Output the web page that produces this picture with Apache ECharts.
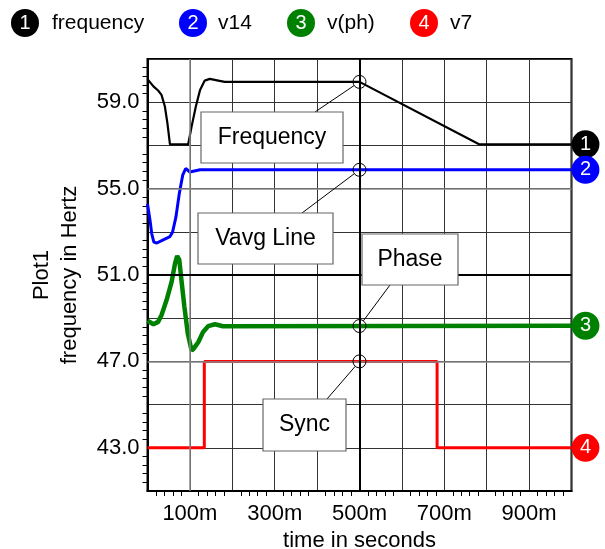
<!DOCTYPE html>
<html>
<head>
<meta charset="utf-8">
<script src="https://cdn.jsdelivr.net/npm/echarts@6/dist/echarts.min.js"></script>
<style>
  html, body { margin: 0; padding: 0; background: #fff; }
  #chart { width: 605px; height: 549px; }
</style>
</head>
<body>
<div id="chart"></div>
<script>
// ── data (time in seconds, value in Hz) ──
var seriesNames = ['frequency', 'v14', 'v(ph)', 'v7'];
var annoLabels = ['Frequency', 'Vavg Line', 'Phase', 'Sync'];
var annoTime = 0.5;

var freqT = [0, 0.014, 0.025, 0.033, 0.041, 0.047, 0.053, 0.096, 0.104, 0.114, 0.124, 0.135, 0.147, 0.167, 0.182, 0.5, 0.782, 1.0];
var freqV = [60.07, 59.73, 59.54, 59.34, 58.80, 58.02, 57.05, 57.05, 57.87, 58.80, 59.57, 60.00, 60.08, 60.00, 59.94, 59.94, 57.05, 57.05];

var v14T = [0, 0.006, 0.010, 0.015, 0.022, 0.037, 0.053, 0.059, 0.067, 0.075, 0.083, 0.090, 0.100, 0.124, 1.0];
var v14V = [54.30, 53.53, 52.91, 52.52, 52.48, 52.63, 52.78, 52.98, 53.68, 54.77, 55.62, 55.93, 55.77, 55.87, 55.87];

var phT = [0, 0.014, 0.025, 0.033, 0.045, 0.057, 0.065, 0.070, 0.075, 0.080, 0.087, 0.095, 0.104, 0.109, 0.120, 0.131, 0.143, 0.159, 0.178, 1.0];
var phV = [48.88, 48.72, 48.83, 49.14, 49.84, 50.69, 51.54, 51.88, 51.70, 50.77, 49.53, 48.29, 47.51, 47.59, 47.90, 48.36, 48.63, 48.72, 48.63, 48.65];

var syncT = [0, 0.134, 0.683, 1.0];
var syncV = [43, 47, 43, 43];

// ── styling / layout ──
var colors = ['#000000', '#0000ff', '#008000', '#ff0000'];
var widths = [2.2, 3, 4.5, 3];
var font = 'Liberation Sans, Arial, sans-serif';
var boxes = [
  { x: 201, y: 112, w: 142, h: 51, ax: 315, ay: 112 },
  { x: 198, y: 213, w: 135, h: 51, ax: 302, ay: 213 },
  { x: 362, y: 234, w: 96, h: 51, ax: 390, ay: 285 },
  { x: 263, y: 399, w: 83, h: 52, ax: 327, ay: 399 }
];

function zip(ts, vs) { return ts.map(function(t, i) { return [t, vs[i]]; }); }
function valueAt(ts, vs, t) {
  for (var i = 1; i < ts.length; i++) {
    if (t <= ts[i]) {
      var f = (t - ts[i - 1]) / (ts[i] - ts[i - 1]);
      return vs[i - 1] + f * (vs[i] - vs[i - 1]);
    }
  }
  return vs[vs.length - 1];
}

var allT = [freqT, v14T, phT, syncT];
var allV = [freqV, v14V, phV, syncV];
var annoVals = [
  valueAt(freqT, freqV, annoTime),
  valueAt(v14T, v14V, annoTime),
  valueAt(phT, phV, annoTime),
  syncV[1]
];

var chart = echarts.init(document.getElementById('chart'), null, { renderer: 'canvas' });

var series = seriesNames.map(function(name, i) {
  return {
    name: name,
    type: 'line',
    data: zip(allT[i], allV[i]),
    step: i === 3 ? 'end' : false,
    showSymbol: false,
    symbol: 'none',
    lineStyle: { color: colors[i], width: widths[i] },
    z: 3,
    endLabel: {
      show: true,
      formatter: String(i + 1),
      color: '#fff',
      backgroundColor: colors[i],
      borderRadius: 14,
      padding: [0, 8.4],
      lineHeight: 28,
      fontSize: 20,
      fontFamily: font,
      distance: 0
    },
    markPoint: {
      silent: true,
      symbol: 'circle',
      symbolSize: 13,
      itemStyle: { color: 'rgba(0,0,0,0)', borderColor: '#000', borderWidth: 1 },
      label: { show: false },
      data: [{ coord: [annoTime, annoVals[i]] }]
    }
  };
});

// heavier reference grid lines
series.push({
  type: 'line',
  data: [],
  z: 1,
  markLine: {
    silent: true,
    symbol: 'none',
    label: { show: false },
    data: [
      { xAxis: 0.1, lineStyle: { color: '#888', width: 1.5, type: 'solid' } },
      { yAxis: 55, lineStyle: { color: '#888', width: 1.5, type: 'solid' } },
      { yAxis: 47, lineStyle: { color: '#888', width: 1.5, type: 'solid' } },
      { xAxis: 0.5, lineStyle: { color: '#000', width: 2, type: 'solid' } },
      { yAxis: 51, lineStyle: { color: '#000', width: 2, type: 'solid' } }
    ]
  }
});

chart.setOption({
  animation: false,
  grid: {
    left: 147.5, right: 33.5, top: 59, bottom: 58,
    outerBoundsMode: 'none', containLabel: false,
    show: true, borderColor: '#000', borderWidth: 2, backgroundColor: 'transparent'
  },
  xAxis: {
    type: 'value', min: 0, max: 1, interval: 0.1,
    name: 'time in seconds', nameLocation: 'middle', nameGap: 36,
    nameTextStyle: { color: '#000', fontSize: 22, fontFamily: font },
    axisLine: { lineStyle: { color: '#000', width: 2 } },
    axisTick: { show: false },
    minorTick: { show: true, splitNumber: 5, length: 5, lineStyle: { color: '#000' } },
    axisLabel: {
      color: '#000', fontSize: 22, fontFamily: font, margin: 12,
      formatter: function(v) { var ms = Math.round(v * 1000); return ms % 200 === 100 ? ms + 'm' : ''; }
    },
    splitLine: { show: true, lineStyle: { color: '#333', width: 1 } }
  },
  yAxis: {
    type: 'value', min: 41, max: 61, interval: 2,
    name: 'Plot1\nfrequency in Hertz', nameLocation: 'middle', nameRotate: 90, nameGap: 64,
    nameTextStyle: { color: '#000', fontSize: 22, fontFamily: font, lineHeight: 28 },
    axisLine: { lineStyle: { color: '#000', width: 2 } },
    axisTick: { show: false },
    minorTick: { show: true, splitNumber: 5, length: 5, lineStyle: { color: '#000' } },
    axisLabel: {
      color: '#000', fontSize: 22, fontFamily: font, margin: 8,
      formatter: function(v) { return Math.round(v - 43) % 4 === 0 ? v.toFixed(1) : ''; }
    },
    splitLine: { show: true, lineStyle: { color: '#333', width: 1 } }
  },
  series: series
});

// ── legend + annotation boxes ──
var graphics = [];
var legendCx = [25, 193, 301, 424];
var legendTx = [52, 218, 327, 450];
seriesNames.forEach(function(name, i) {
  graphics.push({ type: 'circle', shape: { cx: legendCx[i], cy: 23, r: 14 }, style: { fill: colors[i] } });
  graphics.push({ type: 'text', x: legendCx[i], y: 23, style: { text: String(i + 1), fill: '#fff', font: '20px ' + font, align: 'center', verticalAlign: 'middle' } });
  graphics.push({ type: 'text', x: legendTx[i], y: 23, style: { text: name, fill: '#000', font: '21px ' + font, align: 'left', verticalAlign: 'middle' } });
});

boxes.forEach(function(b, i) {
  var p = chart.convertToPixel({ gridIndex: 0 }, [annoTime, annoVals[i]]);
  var dx = p[0] - b.ax, dy = p[1] - b.ay, d = Math.sqrt(dx * dx + dy * dy);
  var ex = p[0] - dx / d * 6.5, ey = p[1] - dy / d * 6.5;
  graphics.push({ type: 'line', shape: { x1: b.ax, y1: b.ay, x2: ex, y2: ey }, style: { stroke: '#000', lineWidth: 1 }, z: 100 });
  graphics.push({ type: 'rect', shape: { x: b.x, y: b.y, width: b.w, height: b.h }, style: { fill: '#fff', stroke: '#666', lineWidth: 1.2 }, z: 100 });
  graphics.push({ type: 'text', x: b.x + b.w / 2, y: b.y + b.h / 2, style: { text: annoLabels[i], fill: '#000', font: '23px ' + font, align: 'center', verticalAlign: 'middle' }, z: 101 });
});

chart.setOption({ graphic: graphics });
</script>
</body>
</html>
